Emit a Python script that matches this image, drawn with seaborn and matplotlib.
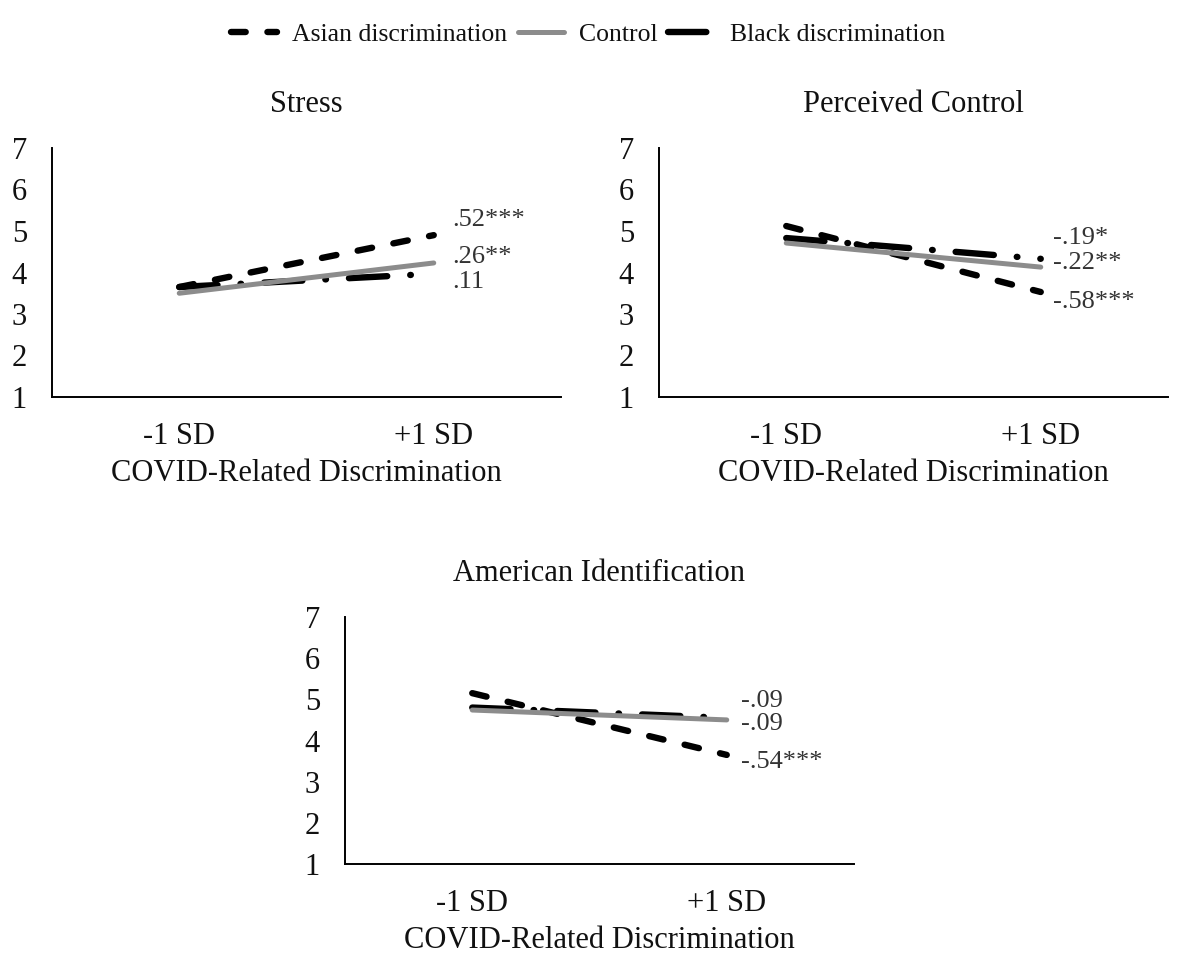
import matplotlib
matplotlib.use("Agg")
import matplotlib.pyplot as plt
import seaborn as sns
from matplotlib.lines import Line2D

# style first, then the fonts (set_style resets font.family)
sns.set_style("white")
plt.rcParams['font.family'] = ['Liberation Serif', 'DejaVu Serif']
plt.rcParams['text.color'] = '#111111'
plt.rcParams['xtick.color'] = '#111111'
plt.rcParams['ytick.color'] = '#111111'
plt.rcParams['axes.labelcolor'] = '#111111'

# --- data ---
levels = ['-1 SD', '+1 SD']
groups = ['Asian discrimination', 'Control', 'Black discrimination']

panel_titles = ['Stress', 'Perceived Control', 'American Identification']

stress_asian = [3.65, 4.90]
stress_control = [3.50, 4.23]
stress_black = [3.65, 3.97]

pc_asian = [5.12, 3.53]
pc_control = [4.71, 4.13]
pc_black = [4.83, 4.33]

ident_asian = [5.15, 3.65]
ident_control = [4.74, 4.50]
ident_black = [4.80, 4.55]

# slope labels (Asian, Control, Black) and where they sit vertically
stress_labels = ['.52***', '.26**', '.11']
stress_label_y = [5.27, 4.37, 3.77]
pc_labels = ['-.58***', '-.22**', '-.19*']
pc_label_y = [3.29, 4.23, 4.83]
ident_labels = ['-.54***', '-.09', '-.09']
ident_label_y = [3.48, 4.40, 4.96]

panels = [
    (stress_asian, stress_control, stress_black, stress_labels, stress_label_y),
    (pc_asian, pc_control, pc_black, pc_labels, pc_label_y),
    (ident_asian, ident_control, ident_black, ident_labels, ident_label_y),
]

# line looks per group
styles = {
    'Asian discrimination': dict(color='black', lw=4.6, ls=(0, (2.3, 3.4))),
    'Control': dict(color='#8c8c8c', lw=3.6, ls='-'),
    'Black discrimination': dict(color='black', lw=4.6, ls=(0, (6, 3.6, 0.1, 3.6))),
}
draw_order = ['Asian discrimination', 'Black discrimination', 'Control']

W, H = 1181, 974
fig = plt.figure(figsize=(W / 100, H / 100), dpi=100)

# axes boxes in pixels: left, top, width, height
boxes = [(52, 148, 509, 249), (659, 148, 509, 249), (345, 617, 509, 247)]
label_dx = [13, 9, 10]

for i, (box, pdata) in enumerate(zip(boxes, panels)):
    l, t, w, h = box
    ax = fig.add_axes([l / W, 1 - (t + h) / H, w / W, h / H])
    values = dict(zip(groups, pdata[:3]))
    for g in draw_order:
        st = styles[g]
        sns.lineplot(x=levels, y=values[g], ax=ax, color=st['color'],
                     linewidth=st['lw'], linestyle=st['ls'], sort=False)
        ax.lines[-1].set_dash_capstyle('round')
        ax.lines[-1].set_solid_capstyle('round')

    for lab, ly in zip(pdata[3], pdata[4]):
        ax.annotate(lab, xy=(1, ly), xytext=(label_dx[i], 0),
                    textcoords='offset points', va='center', ha='left',
                    fontsize=19, color='#333333')

    ax.set_xlim(-0.5, 1.5)
    ax.set_ylim(1, 7)
    ax.set_yticks(range(1, 8))
    ax.set_title(panel_titles[i], fontsize=22, pad=26)
    ax.set_xlabel('COVID-Related Discrimination', fontsize=22, labelpad=6)
    ax.set_ylabel('')
    ax.tick_params(axis='both', length=0, labelsize=22, pad=18)
    sns.despine(ax=ax)
    for s in ['left', 'bottom']:
        ax.spines[s].set_color('black')
        ax.spines[s].set_linewidth(1.4)

handles = []
for g in groups:
    st = styles[g]
    handles.append(Line2D([], [], color=st['color'], lw=st['lw'],
                          ls=st['ls'], dash_capstyle='round'))
fig.legend(handles, groups, loc='center', bbox_to_anchor=(588 / W, 1 - 35 / H),
           ncol=3, frameon=False, fontsize=18.5, handlelength=1.8,
           handletextpad=0.6, columnspacing=0.4)

fig.savefig('out.png', dpi=100)
